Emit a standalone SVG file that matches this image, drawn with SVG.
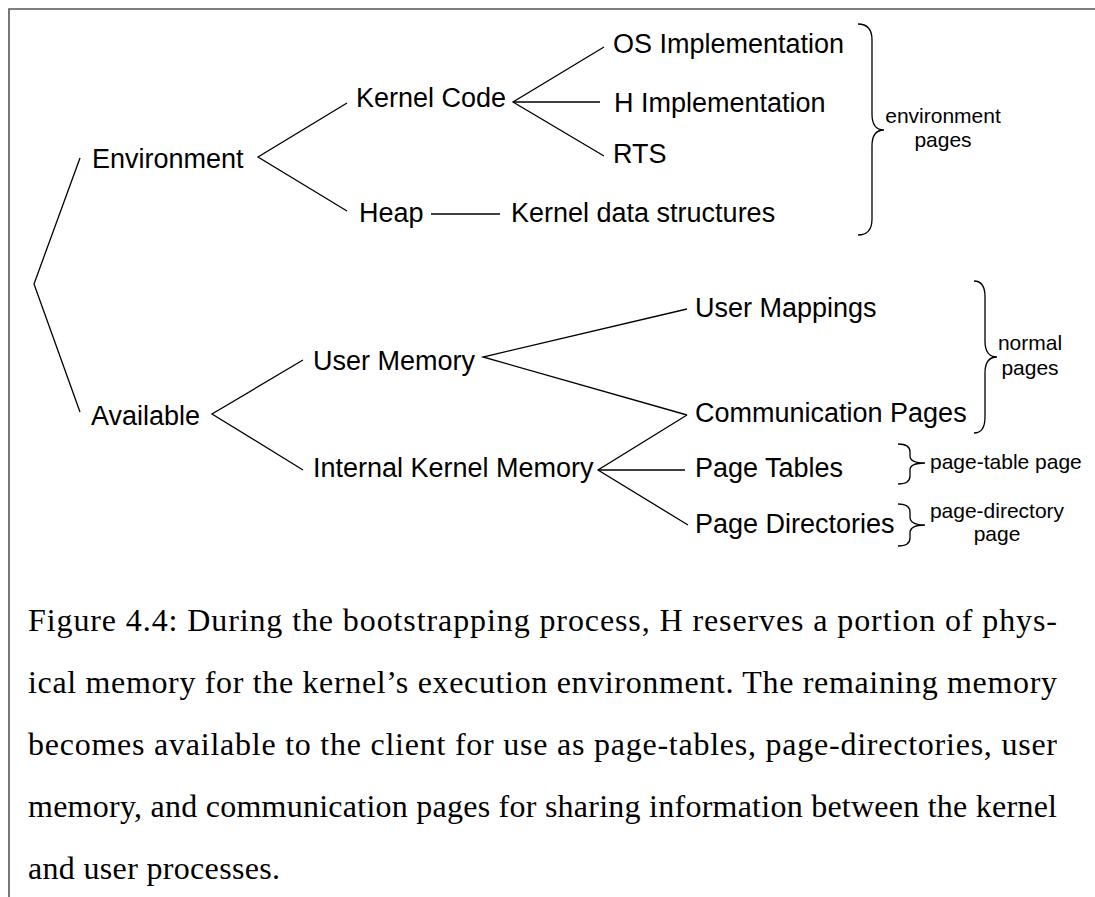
<svg xmlns="http://www.w3.org/2000/svg" width="1095" height="897" viewBox="0 0 1095 897">
<style>
.t{font-family:"Liberation Sans",Arial,sans-serif;font-size:27px;fill:#000}
.s{font-family:"Liberation Sans",Arial,sans-serif;font-size:21px;fill:#000}
.c{font-family:"Liberation Serif","Times New Roman",serif;font-size:32px;fill:#000}
.ln{stroke:#000;stroke-width:1.3;fill:none}
.fr{stroke:#555;stroke-width:1.6;fill:none}
</style>
<rect width="1095" height="897" fill="#fff"/>
<g id="frame"><path class="fr" d="M9,897 L9,9 L1095,9"/></g>
<g id="connectors">
<polyline class="ln" points="80,158 34,284 80,412"/>
<polyline class="ln" points="347,103 258,157 347,211"/>
<polyline class="ln" points="604,47 513,102 604,156"/>
<line class="ln" x1="513" y1="102" x2="600" y2="102"/>
<line class="ln" x1="431" y1="214" x2="500" y2="214"/>
<polyline class="ln" points="303,360 212,414 303,470"/>
<polyline class="ln" points="687,309 483,357 687,415"/>
<polyline class="ln" points="687,415 598,470 688,525"/>
<line class="ln" x1="598" y1="470" x2="685" y2="470"/>
<path class="ln" d="M858,24 Q872,24 872,40 L872,114 Q872,130 884,130 Q872,130 872,146 L872,219 Q872,235 858,235"/>
<path class="ln" d="M974,281 Q985,281 985,297 L985,341 Q985,357 997,357 Q985,357 985,373 L985,417 Q985,433 974,433"/>
<path class="ln" d="M898,444 Q910,444 910,452 L910,456 Q910,463 925,463 Q910,463 910,470 L910,476 Q910,484 898,484"/>
<path class="ln" d="M898,504 Q910,504 910,512 L910,517 Q910,525 925,525 Q910,525 910,533 L910,538 Q910,546 898,546"/>
</g>
<g id="n-environment"><text class="t" x="92" y="168">Environment</text></g>
<g id="n-kernelcode"><text class="t" x="356" y="107">Kernel Code</text></g>
<g id="n-os"><text class="t" x="613" y="53">OS Implementation</text></g>
<g id="n-h"><text class="t" x="614" y="112">H Implementation</text></g>
<g id="n-rts"><text class="t" x="613" y="163">RTS</text></g>
<g id="n-heap"><text class="t" x="359" y="222">Heap</text></g>
<g id="n-kds"><text class="t" x="511" y="222">Kernel data structures</text></g>
<g id="n-available"><text class="t" x="91" y="425">Available</text></g>
<g id="n-usermem"><text class="t" x="313" y="370">User Memory</text></g>
<g id="n-ikm"><text class="t" x="313" y="477">Internal Kernel Memory</text></g>
<g id="n-usermap"><text class="t" x="695" y="317">User Mappings</text></g>
<g id="n-comm"><text class="t" x="695" y="422">Communication Pages</text></g>
<g id="n-pt"><text class="t" x="695" y="477">Page Tables</text></g>
<g id="n-pd"><text class="t" x="695" y="533">Page Directories</text></g>
<g id="n-envpages"><text class="s" text-anchor="middle"><tspan x="943" y="123">environment</tspan><tspan x="943" y="147">pages</tspan></text></g>
<g id="n-normal"><text class="s" text-anchor="middle"><tspan x="1030" y="350">normal</tspan><tspan x="1030" y="375">pages</tspan></text></g>
<g id="n-ptp"><text class="s" x="930" y="469">page-table page</text></g>
<g id="n-pdp"><text class="s" text-anchor="middle"><tspan x="997" y="518">page-directory</tspan><tspan x="997" y="541">page</tspan></text></g>
<g id="caption">
<text class="c" x="28" y="631" textLength="1029" lengthAdjust="spacing">Figure 4.4:  During the bootstrapping process, H reserves a portion of phys-</text>
<text class="c" x="28" y="693" textLength="1029" lengthAdjust="spacing">ical memory for the kernel’s execution environment.  The remaining memory</text>
<text class="c" x="28" y="755" textLength="1029" lengthAdjust="spacing">becomes available to the client for use as page-tables, page-directories, user</text>
<text class="c" x="28" y="817" textLength="1029" lengthAdjust="spacing">memory, and communication pages for sharing information between the kernel</text>
<text class="c" x="28" y="879" textLength="252" lengthAdjust="spacing">and user processes.</text>
</g>
</svg>
